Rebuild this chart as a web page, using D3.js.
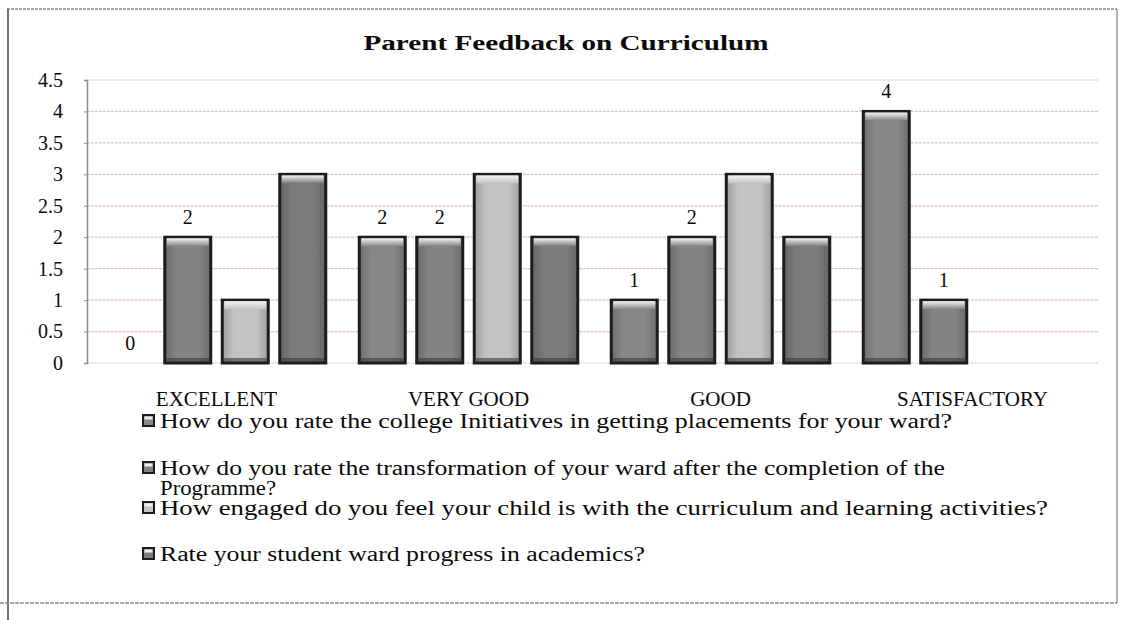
<!DOCTYPE html>
<html>
<head>
<meta charset="utf-8">
<script src="https://cdn.jsdelivr.net/npm/d3@7"></script>
<style>
  html, body { margin: 0; padding: 0; background: #ffffff; }
  svg { display: block; }
  text { font-family: "Liberation Serif", "Times New Roman", serif; fill: #0a0a0a; }
</style>
</head>
<body>
<svg id="chart" width="1121" height="620"></svg>
<script>
// ---------------- data ----------------
const chartTitle = "Parent Feedback on Curriculum";
const categories = ["EXCELLENT", "VERY GOOD", "GOOD", "SATISFACTORY"];
const seriesNames = [
  "How do you rate the college Initiatives in getting placements for your ward?",
  "How do you rate the transformation of your ward after the completion of the Programme?",
  "How engaged do you feel your child is with the curriculum and learning activities?",
  "Rate your student ward progress in academics?"
];
const placementsValues     = [0, 2, 1, 4];
const transformationValues = [2, 2, 2, 1];
const engagementValues     = [1, 3, 3, null];
const progressValues       = [3, 2, 2, null];
const yTickValues = [0, 0.5, 1, 1.5, 2, 2.5, 3, 3.5, 4, 4.5];
const yTickLabels = ["0", "0.5", "1", "1.5", "2", "2.5", "3", "3.5", "4", "4.5"];

// ---------------- styling ----------------
const seriesColors = ["#878787", "#838383", "#c3c3c3", "#7b7b7b"];
const showLabels = [true, true, false, false];
const legendLines = [
  [seriesNames[0]],
  ["How do you rate the transformation of your ward after the completion of the", "Programme?"],
  [seriesNames[2]],
  [seriesNames[3]]
];

const seriesValues = [placementsValues, transformationValues, engagementValues, progressValues];
const seriesKeys = seriesNames.map((d, i) => "s" + i);
const serif = "Liberation Serif, Times New Roman, serif";

const svg = d3.select("#chart");
const defs = svg.append("defs");

// gradients for cylindrical look
seriesColors.forEach((c, i) => {
  const g = defs.append("linearGradient").attr("id", "hg" + i).attr("x1", 0).attr("x2", 1).attr("y1", 0).attr("y2", 0);
  g.append("stop").attr("offset", "0%").attr("stop-color", d3.color(c).darker(0.6));
  g.append("stop").attr("offset", "25%").attr("stop-color", c);
  g.append("stop").attr("offset", "75%").attr("stop-color", c);
  g.append("stop").attr("offset", "100%").attr("stop-color", d3.color(c).darker(0.6));
  const t = defs.append("linearGradient").attr("id", "tg" + i).attr("x1", 0).attr("x2", 0).attr("y1", 0).attr("y2", 1);
  t.append("stop").attr("offset", "0%").attr("stop-color", "#f4f4f4");
  t.append("stop").attr("offset", "100%").attr("stop-color", c);
});

// frame
const frame = svg.append("g").attr("stroke-width", 1.5).attr("fill", "none");
frame.append("line").attr("x1", 7).attr("x2", 1117).attr("y1", 9).attr("y2", 9).attr("stroke", "#8a8a8a").attr("stroke-dasharray", "3,1");
frame.append("line").attr("x1", 8).attr("x2", 8).attr("y1", 9).attr("y2", 620).attr("stroke", "#444");
frame.append("line").attr("x1", 1117).attr("x2", 1117).attr("y1", 9).attr("y2", 603).attr("stroke", "#9a9a9a");
frame.append("line").attr("x1", 0).attr("x2", 1117).attr("y1", 603).attr("y2", 603).attr("stroke", "#8a8a8a").attr("stroke-dasharray", "4,1");

// scales
const x = d3.scaleBand().domain(categories).range([90.5, 1098.5]).paddingInner(0).paddingOuter(0);
const xs = d3.scaleBand().domain(seriesKeys).range([11, x.bandwidth() - 11]).paddingInner(0.2).paddingOuter(0.1);
const y = d3.scaleLinear().domain([0, 4.5]).range([363, 80]);

// title
svg.append("text").attr("x", 566).attr("y", 50).attr("text-anchor", "middle")
  .attr("font-size", 21).attr("font-weight", "bold").attr("textLength", 405).attr("lengthAdjust", "spacingAndGlyphs")
  .text(chartTitle);

// gridlines
svg.append("g").selectAll("line").data(yTickValues).join("line")
  .attr("x1", 87).attr("x2", 1098).attr("y1", d => y(d)).attr("y2", d => y(d))
  .attr("stroke", "#dcc3c3").attr("stroke-width", 1.2).attr("stroke-dasharray", "3,1");

// y axis
const yAxis = d3.axisLeft(y).tickValues(yTickValues).tickFormat((d, i) => yTickLabels[i]).tickSize(3).tickPadding(21);
const ya = svg.append("g").attr("transform", "translate(87,0)").call(yAxis);
ya.attr("font-family", serif);
ya.select(".domain").attr("stroke", "#8c8c8c").attr("stroke-width", 1.5);
ya.selectAll(".tick line").attr("stroke", "#8c8c8c");
ya.selectAll(".tick text").attr("font-size", 20).attr("fill", "#0a0a0a");

// x axis labels
const xAxis = d3.axisBottom(x).tickSize(0).tickPadding(0);
const xa = svg.append("g").attr("transform", "translate(0,391)").call(xAxis);
xa.attr("font-family", serif);
xa.select(".domain").remove();
xa.selectAll(".tick text").attr("font-size", 21).attr("fill", "#0a0a0a");

// bars
const groups = svg.append("g").selectAll("g").data(categories).join("g")
  .attr("transform", d => `translate(${x(d)},0)`);

groups.each(function(cat, ci) {
  const g = d3.select(this);
  seriesValues.forEach((vals, si) => {
    const v = vals[ci];
    if (v === null || v === undefined) return;
    const bx = xs(seriesKeys[si]);
    const bw = xs.bandwidth();
    if (v > 0) {
      g.append("rect").attr("x", bx).attr("y", y(v)).attr("width", bw).attr("height", y(0) - y(v))
        .attr("fill", `url(#hg${si})`).attr("stroke", "#1c1c1c").attr("stroke-width", 3);
      g.append("rect").attr("x", bx + 2).attr("y", y(v) + 1).attr("width", bw - 4).attr("height", 8)
        .attr("fill", `url(#tg${si})`);
      g.append("rect").attr("x", bx + 1.5).attr("y", y(0) - 5).attr("width", bw - 3).attr("height", 4)
        .attr("fill", "#3a3a3a").attr("opacity", 0.6);
    }
    if (showLabels[si]) {
      g.append("text").attr("x", bx + bw / 2).attr("y", y(v) - 13).attr("text-anchor", "middle")
        .attr("font-size", 20).text(d3.format("d")(v));
    }
  });
});

// legend
const legendBaselines = [[428], [475], [515], [561]];
const legendTextLen = [[792], [785, 116], [888], [485]];
const lg = svg.append("g");
legendLines.forEach((lines, si) => {
  const by = legendBaselines[si][0];
  lg.append("rect").attr("x", 143).attr("y", by - 13).attr("width", 11).attr("height", 11)
    .attr("fill", seriesColors[si]).attr("stroke", "#1c1c1c").attr("stroke-width", 2);
  lg.append("rect").attr("x", 144.5).attr("y", by - 11.5).attr("width", 8).attr("height", 3).attr("fill", "#eeeeee");
  lines.forEach((ln, li) => {
    lg.append("text").attr("x", 160).attr("y", by + li * 20)
      .attr("font-size", 20).attr("textLength", legendTextLen[si][li]).attr("lengthAdjust", "spacingAndGlyphs")
      .text(ln);
  });
});
</script>
</body>
</html>
